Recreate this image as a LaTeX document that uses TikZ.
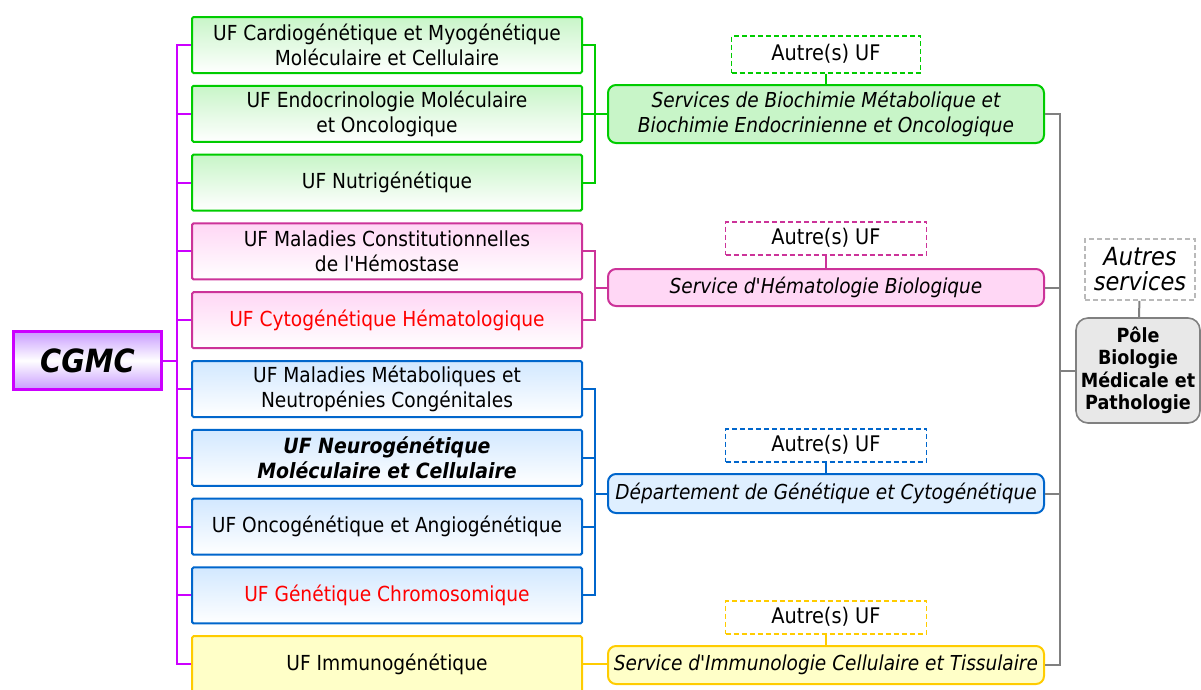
\documentclass[tikz,border=0pt]{standalone}
\usepackage{fontspec}
\setmainfont{DejaVu Sans Condensed}
\usetikzlibrary{positioning,calc}
\definecolor{cgmcviolet}{RGB}{204,0,255}
\definecolor{cgmcfill}{RGB}{200,155,255}
\definecolor{ufgreen}{RGB}{0,204,0}
\definecolor{ufgreenfill}{RGB}{200,245,200}
\definecolor{ufpink}{RGB}{204,51,153}
\definecolor{ufpinkfill}{RGB}{255,215,245}
\definecolor{ufblue}{RGB}{0,102,204}
\definecolor{ufbluefill}{RGB}{210,232,255}
\definecolor{ufyellow}{RGB}{255,204,0}
\definecolor{ufyellowfill}{RGB}{255,255,200}
\definecolor{polegray}{RGB}{128,128,128}
\definecolor{polefill}{RGB}{232,232,232}
\definecolor{ufred}{RGB}{255,0,0}
\tikzset{
 cgmcbox/.style={rectangle,draw=cgmcviolet,line width=2.6pt,top color=cgmcfill,bottom color=cgmcfill,middle color=white,minimum width=148pt,minimum height=58pt,inner sep=0pt,font=\fontsize{32}{32}\selectfont\bfseries\itshape},
 ufbox/.style={rectangle,rounded corners=1.5pt,line width=2pt,minimum width=390pt,minimum height=56pt,inner sep=0pt,align=center,font=\fontsize{20.7}{25}\selectfont},
 greenuf/.style={ufbox,draw=ufgreen,top color=ufgreenfill,bottom color=white},
 pinkuf/.style={ufbox,draw=ufpink,top color=ufpinkfill,bottom color=white},
 blueuf/.style={ufbox,draw=ufblue,top color=ufbluefill,bottom color=white},
 yellowuf/.style={ufbox,draw=ufyellow,fill=ufyellowfill},
 service/.style={rectangle,rounded corners=8pt,line width=2pt,minimum width=436pt,inner sep=0pt,align=center,font=\fontsize{20.6}{25}\selectfont\itshape},
 autre/.style={rectangle,line width=1.6pt,dash pattern=on 5pt off 3pt,fill=white,minimum width=201pt,minimum height=33pt,inner sep=0pt,font=\fontsize{21.5}{22}\selectfont},
 polebox/.style={rectangle,rounded corners=12pt,draw=polegray,fill=polefill,line width=1.6pt,minimum width=124pt,minimum height=105pt,inner sep=0pt,align=center,font=\fontsize{19.5}{22.5}\selectfont\bfseries},
 autresserv/.style={rectangle,draw=polegray!55,line width=1.6pt,dash pattern=on 5pt off 3pt,minimum width=110pt,minimum height=61pt,inner sep=0pt,align=center,font=\fontsize{25}{25}\selectfont\itshape},
 magline/.style={line width=2pt,draw=cgmcviolet},
 greenline/.style={line width=2pt,draw=ufgreen},
 pinkline/.style={line width=2pt,draw=ufpink},
 blueline/.style={line width=2pt,draw=ufblue},
 yellowline/.style={line width=2pt,draw=ufyellow},
 grayline/.style={line width=2pt,draw=polegray}}
\begin{document}
\begin{tikzpicture}[x=1pt,y=-1pt,node distance=10.8pt]
\useasboundingbox (0,0) rectangle (1201,689);
\node[cgmcbox] (cgmc) at (87.5,360.5) {CGMC};
\node[greenuf] (cardio) at (387,45) {UF Cardiogénétique et Myogénétique\\Moléculaire et Cellulaire};
\node[greenuf,below=of cardio] (endo) {UF Endocrinologie Moléculaire\\et Oncologique};
\node[greenuf,below=of endo] (nutri) {UF Nutrigénétique};
\node[pinkuf,below=of nutri] (hemost) {UF Maladies Constitutionnelles\\de l\textquotesingle Hémostase};
\node[pinkuf,below=of hemost,text=ufred] (cytohem) {UF Cytogénétique Hématologique};
\node[blueuf,below=of cytohem] (metab) {UF Maladies Métaboliques et\\Neutropénies Congénitales};
\node[blueuf,below=of metab,font=\fontsize{21}{25}\selectfont\bfseries\itshape] (neuro) {UF Neurogénétique\\Moléculaire et Cellulaire};
\node[blueuf,below=of neuro] (onco) {UF Oncogénétique et Angiogénétique};
\node[blueuf,below=of onco,text=ufred] (chromo) {UF Génétique Chromosomique};
\node[yellowuf,below=of chromo] (immuno) {UF Immunogénétique};
\node[service,draw=ufgreen,fill=ufgreenfill,minimum height=58pt] (biochim) at (826,114) {Services de Biochimie Métabolique et\\Biochimie Endocrinienne et Oncologique};
\node[service,draw=ufpink,fill=ufpinkfill,minimum height=37pt] (hemato) at (826,287.5) {Service d\textquotesingle Hématologie Biologique};
\node[service,draw=ufblue,fill=ufbluefill!70,minimum height=39pt] (dgc) at (826,493.5) {Département de Génétique et Cytogénétique};
\node[service,draw=ufyellow,fill=ufyellowfill,minimum height=38pt] (immserv) at (826,665) {Service d\textquotesingle Immunologie Cellulaire et Tissulaire};
\node[autre,draw=ufgreen,minimum width=189pt,minimum height=37pt,above=10.5pt of biochim] (autregreen) {Autre(s) UF};
\node[autre,draw=ufpink,above=12.5pt of hemato] (autrepink) {Autre(s) UF};
\node[autre,draw=ufblue,above=10.5pt of dgc] (autreblue) {Autre(s) UF};
\node[autre,draw=ufyellow,above=10.5pt of immserv] (autreyellow) {Autre(s) UF};
\node[polebox] (pole) at (1138,370.5) {Pôle\\Biologie\\Médicale et\\Pathologie};
\node[autresserv] (autres) at (1140,269.5) {Autres\\services};
\draw[magline] (cgmc.east) -- ++(14,0); \draw[magline] (cardio.west) -- ++(-14,0) |- (immuno.west);
\foreach \n in {endo,nutri,hemost,cytohem,metab,neuro,onco,chromo} \draw[magline] (\n.west) -- ++(-14,0);
\draw[greenline] (cardio.east) -- ++(12,0) |- (nutri.east); \draw[greenline] (endo.east) -- (endo.east -| biochim.west);
\draw[pinkline] (hemost.east) -- ++(12,0) |- (cytohem.east); \draw[pinkline] (hemato.west) -- ++(-12,0);
\draw[blueline] (metab.east) -- ++(12,0) |- (chromo.east); \draw[blueline] (dgc.west) -- ++(-12,0);
\foreach \n in {neuro,onco} \draw[blueline] (\n.east) -- ++(12,0);
\draw[yellowline] (immuno.east) -- (immuno.east -| immserv.west);
\draw[greenline] (autregreen) -- (biochim); \draw[pinkline] (autrepink) -- (hemato);
\draw[blueline] (autreblue) -- (dgc); \draw[yellowline] (autreyellow) -- (immserv);
\draw[grayline] (biochim.east) -- ++(15,0) |- (immserv.east);
\draw[grayline] (hemato.east) -- ++(15,0); \draw[grayline] (dgc.east) -- ++(15,0); \draw[grayline] (pole.west) -- ++(-15,0);
\draw[grayline] (autres) -- (pole);
\end{tikzpicture}
\end{document}
